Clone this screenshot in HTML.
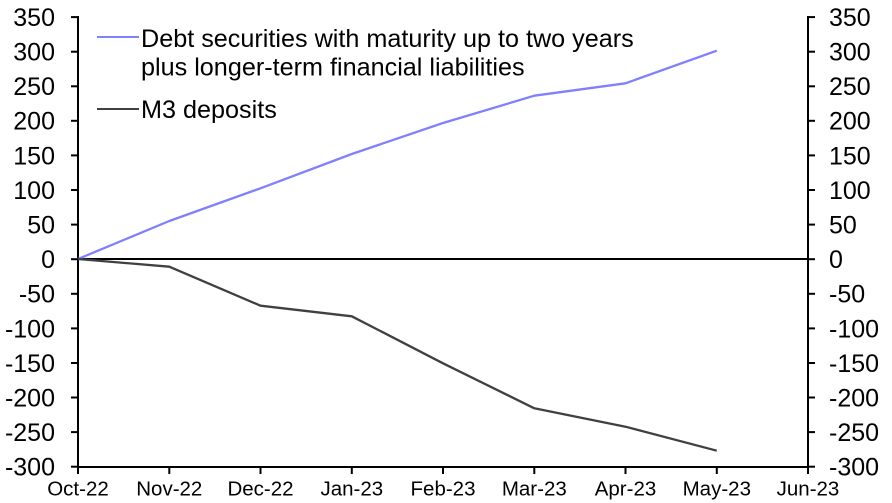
<!DOCTYPE html>
<html>
<head>
<meta charset="utf-8">
<style>
  html, body { margin:0; padding:0; background:#fff; }
  svg { display:block; }
  text { font-family: "Liberation Sans", Arial, sans-serif; fill:#000; }
</style>
</head>
<body>
<svg width="892" height="503" viewBox="0 0 892 503" xmlns="http://www.w3.org/2000/svg">
  <rect x="0" y="0" width="892" height="503" fill="#fff"/>

  <!-- zero line -->
  <line x1="78" y1="259" x2="808" y2="259" stroke="#000" stroke-width="2"/>

  <!-- axes -->
  <line x1="78" y1="16" x2="78" y2="468" stroke="#000" stroke-width="2"/>
  <line x1="808" y1="16" x2="808" y2="468" stroke="#000" stroke-width="2"/>
  <line x1="77" y1="467" x2="809" y2="467" stroke="#000" stroke-width="2"/>

  <!-- y ticks left & right -->
  <g stroke="#000" stroke-width="2">
    <line x1="71" y1="17.1" x2="78" y2="17.1"/>
    <line x1="71" y1="51.7" x2="78" y2="51.7"/>
    <line x1="71" y1="86.3" x2="78" y2="86.3"/>
    <line x1="71" y1="120.8" x2="78" y2="120.8"/>
    <line x1="71" y1="155.4" x2="78" y2="155.4"/>
    <line x1="71" y1="190" x2="78" y2="190"/>
    <line x1="71" y1="224.6" x2="78" y2="224.6"/>
    <line x1="71" y1="259.2" x2="78" y2="259.2"/>
    <line x1="71" y1="293.8" x2="78" y2="293.8"/>
    <line x1="71" y1="328.4" x2="78" y2="328.4"/>
    <line x1="71" y1="363" x2="78" y2="363"/>
    <line x1="71" y1="397.5" x2="78" y2="397.5"/>
    <line x1="71" y1="432.1" x2="78" y2="432.1"/>
    <line x1="71" y1="466.7" x2="78" y2="466.7"/>

    <line x1="808" y1="17.1" x2="815" y2="17.1"/>
    <line x1="808" y1="51.7" x2="815" y2="51.7"/>
    <line x1="808" y1="86.3" x2="815" y2="86.3"/>
    <line x1="808" y1="120.8" x2="815" y2="120.8"/>
    <line x1="808" y1="155.4" x2="815" y2="155.4"/>
    <line x1="808" y1="190" x2="815" y2="190"/>
    <line x1="808" y1="224.6" x2="815" y2="224.6"/>
    <line x1="808" y1="259.2" x2="815" y2="259.2"/>
    <line x1="808" y1="293.8" x2="815" y2="293.8"/>
    <line x1="808" y1="328.4" x2="815" y2="328.4"/>
    <line x1="808" y1="363" x2="815" y2="363"/>
    <line x1="808" y1="397.5" x2="815" y2="397.5"/>
    <line x1="808" y1="432.1" x2="815" y2="432.1"/>
    <line x1="808" y1="466.7" x2="815" y2="466.7"/>

    <!-- x ticks -->
    <line x1="78" y1="467" x2="78" y2="474"/>
    <line x1="169.3" y1="467" x2="169.3" y2="474"/>
    <line x1="260.5" y1="467" x2="260.5" y2="474"/>
    <line x1="351.8" y1="467" x2="351.8" y2="474"/>
    <line x1="443" y1="467" x2="443" y2="474"/>
    <line x1="534.3" y1="467" x2="534.3" y2="474"/>
    <line x1="625.5" y1="467" x2="625.5" y2="474"/>
    <line x1="716.8" y1="467" x2="716.8" y2="474"/>
    <line x1="808" y1="467" x2="808" y2="474"/>
  </g>

  <!-- left y labels -->
  <g font-size="25" text-anchor="end">
    <text x="55" y="26">350</text>
    <text x="55" y="60.6">300</text>
    <text x="55" y="95.2">250</text>
    <text x="55" y="129.7">200</text>
    <text x="55" y="164.3">150</text>
    <text x="55" y="198.9">100</text>
    <text x="55" y="233.5">50</text>
    <text x="55" y="268.1">0</text>
    <text x="55" y="302.7">-50</text>
    <text x="55" y="337.3">-100</text>
    <text x="55" y="371.9">-150</text>
    <text x="55" y="406.4">-200</text>
    <text x="55" y="441">-250</text>
    <text x="55" y="475.6">-300</text>
  </g>

  <!-- right y labels -->
  <g font-size="25" text-anchor="start">
    <text x="829" y="26">350</text>
    <text x="829" y="60.6">300</text>
    <text x="829" y="95.2">250</text>
    <text x="829" y="129.7">200</text>
    <text x="829" y="164.3">150</text>
    <text x="829" y="198.9">100</text>
    <text x="829" y="233.5">50</text>
    <text x="829" y="268.1">0</text>
    <text x="829" y="302.7">-50</text>
    <text x="829" y="337.3">-100</text>
    <text x="829" y="371.9">-150</text>
    <text x="829" y="406.4">-200</text>
    <text x="829" y="441">-250</text>
    <text x="829" y="475.6">-300</text>
  </g>

  <!-- x labels -->
  <g font-size="20.5" text-anchor="middle">
    <text x="78" y="495.5">Oct-22</text>
    <text x="169.3" y="495.5">Nov-22</text>
    <text x="260.5" y="495.5">Dec-22</text>
    <text x="351.8" y="495.5">Jan-23</text>
    <text x="443" y="495.5">Feb-23</text>
    <text x="534.3" y="495.5">Mar-23</text>
    <text x="625.5" y="495.5">Apr-23</text>
    <text x="716.8" y="495.5">May-23</text>
    <text x="808" y="495.5">Jun-23</text>
  </g>

  <!-- series -->
  <polyline fill="none" stroke="#8080ff" stroke-width="2.3" stroke-linejoin="round"
    points="78,259 169.3,221 260.5,188.3 351.8,154 443,123 534.3,95.7 625.5,83.3 716.8,50.7"/>
  <polyline fill="none" stroke="#404040" stroke-width="2.3" stroke-linejoin="round"
    points="78,259 169.3,266.7 260.5,305.7 351.8,316.3 443,363.3 534.3,408.3 625.5,426.7 716.8,450.7"/>

  <!-- legend -->
  <line x1="97" y1="37" x2="139" y2="37" stroke="#8080ff" stroke-width="2"/>
  <line x1="97" y1="109" x2="139" y2="109" stroke="#404040" stroke-width="2"/>
  <g font-size="25.2">
    <text x="141" y="47">Debt securities with maturity up to two years</text>
    <text x="141" y="75.5">plus longer-term financial liabilities</text>
    <text x="141" y="118">M3 deposits</text>
  </g>
</svg>
</body>
</html>
